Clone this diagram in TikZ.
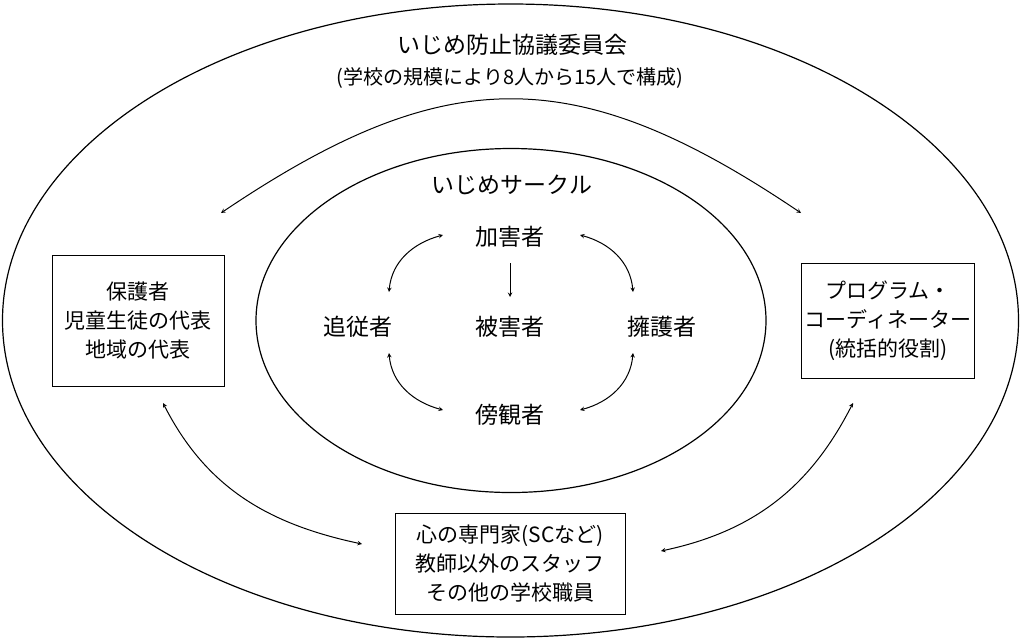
\documentclass[tikz,border=0pt]{standalone}
\usepackage{fontspec}
\setmainfont{Noto Sans CJK JP}
\usetikzlibrary{arrows}

\begin{document}
\begin{tikzpicture}[x=1pt,y=1pt,>=stealth,
    lbl/.style={font=\fontsize{23}{28}\selectfont, inner sep=0pt},
    boxtext/.style={draw, line width=1pt, align=center, font=\fontsize{21}{29}\selectfont},
    twoway/.style={<->, line width=1pt},
    oneway/.style={->, line width=1pt}]
    \useasboundingbox (0,0) rectangle (1024,-641);
    % the two rings
    \draw[line width=1.2pt] (510.5,-320.5) ellipse (508 and 316.5);
    \draw[line width=1.2pt] (511,-320.5) ellipse (255 and 172);
    \node[lbl] (title) at (512,-45) {いじめ防止協議委員会};
    \node[font=\fontsize{20}{24}\selectfont, inner sep=0pt] (sub) at (510,-78) {(学校の規模により8人から15人で構成)};
    \node[lbl] (ring) at (512,-185) {いじめサークル};
    % members of the circle
    \node[lbl] (bully) at (510,-237) {加害者};
    \node[lbl] (victim) at (510,-327) {被害者};
    \node[lbl] (follower) at (358,-327) {追従者};
    \node[lbl] (defender) at (662,-327) {擁護者};
    \node[lbl] (bystander) at (510,-415) {傍観者};
    % the three groups
    \node[boxtext, minimum width=172pt, minimum height=131pt] (family) at (138,-320.5)
        {保護者\\児童生徒の代表\\地域の代表};
    \node[boxtext, minimum width=170pt, minimum height=115pt] (coord) at (888,-320.5)
        {プログラム・\\コーディネーター\\(統括的役割)};
    \node[boxtext, minimum width=230pt, minimum height=101pt] (staff) at (510,-563.5)
        {心の専門家(SCなど)\\教師以外のスタッフ\\その他の学校職員};
    % arrow ends
    \coordinate (bully-l) at (443,-235);
    \coordinate (bully-r) at (580,-235);
    \coordinate (bully-s) at (510,-263);
    \coordinate (victim-n) at (510,-297);
    \coordinate (follower-t) at (389,-292);
    \coordinate (follower-b) at (389,-353);
    \coordinate (defender-t) at (633,-292);
    \coordinate (defender-b) at (633,-353);
    \coordinate (bystander-l) at (443,-410);
    \coordinate (bystander-r) at (580,-410);
    \coordinate (family-n) at (221,-213);
    \coordinate (coord-n) at (801,-213);
    \coordinate (family-s) at (163,-403);
    \coordinate (staff-w) at (362,-544);
    \coordinate (staff-e) at (661,-551);
    \coordinate (coord-s) at (853,-403);
    \draw[twoway] (follower-t) to[out=85,in=195] (bully-l);
    \draw[twoway] (bully-r) to[out=-15,in=95] (defender-t);
    \draw[twoway] (follower-b) to[out=-85,in=165] (bystander-l);
    \draw[twoway] (defender-b) to[out=-95,in=15] (bystander-r);
    \draw[oneway] (bully-s) -- (victim-n);
    \draw[twoway] (family-n) to[out=34,in=146,looseness=1.2] (coord-n);
    \draw[twoway] (family-s) to[out=-63,in=168] (staff-w);
    \draw[twoway] (coord-s) to[out=-117,in=12] (staff-e);
\end{tikzpicture}
\end{document}
